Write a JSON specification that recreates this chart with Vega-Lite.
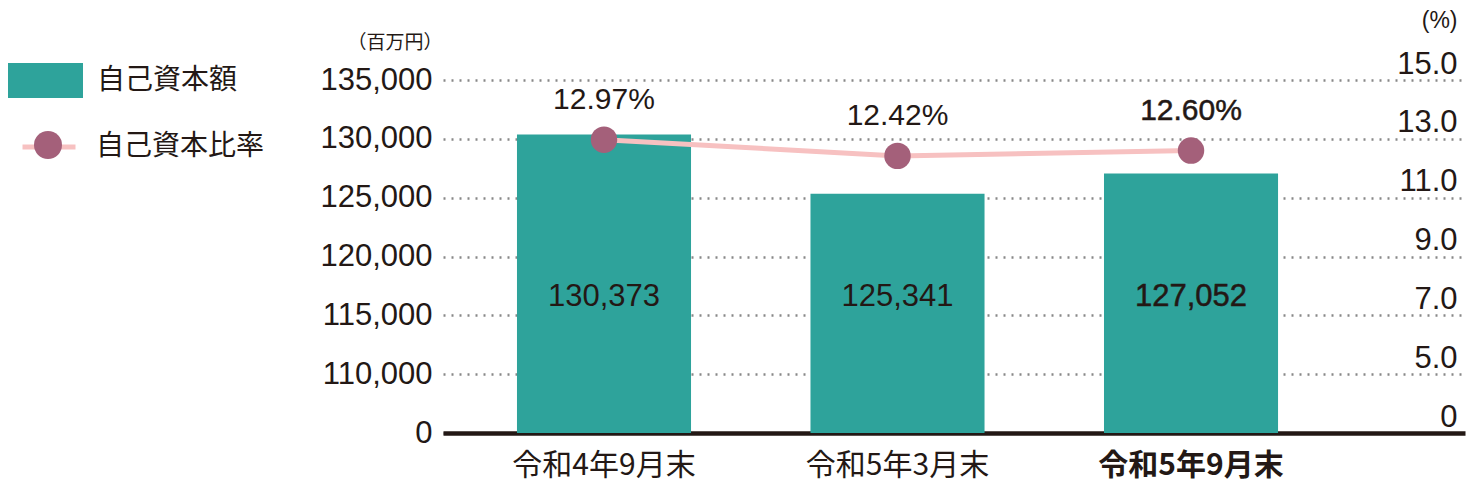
{
  "$schema": "https://vega.github.io/schema/vega-lite/v6.json",
  "width": 1022,
  "height": 353,
  "autosize": {"type": "none"},
  "padding": {"left": 443, "top": 80, "right": 4, "bottom": 64},
  "background": "white",
  "config": {"view": {"stroke": null}, "font": "Liberation Sans"},
  "data": {
    "values": [
      {"period": "令和4年9月末", "capital": 130373, "ratio": 0.1297},
      {"period": "令和5年3月末", "capital": 125341, "ratio": 0.1242},
      {"period": "令和5年9月末", "capital": 127052, "ratio": 0.1260}
    ]
  },
  "encoding": {
    "x": {
      "field": "period",
      "type": "nominal",
      "sort": null,
      "scale": {"paddingInner": 0.407, "paddingOuter": 0.4445, "align": 0.2835},
      "axis": {
        "title": null,
        "labelAngle": 0,
        "labelLimit": 0,
        "labelFont": "Noto Sans CJK JP",
        "labelFontSize": 30,
        "labelColor": "#231815",
        "labelPadding": 17,
        "labelFontWeight": {"condition": {"test": "datum.value === '令和5年9月末'", "value": "bold"}, "value": "normal"},
        "ticks": false,
        "domain": true,
        "domainColor": "#231815",
        "domainWidth": 4.5
      }
    }
  },
  "layer": [
    {
      "layer": [
        {
          "mark": {"type": "bar", "color": "#2EA39B"},
          "encoding": {
            "y": {
              "field": "capital",
              "type": "quantitative",
              "scale": {"domain": [105000, 135000], "zero": false, "nice": false},
              "axis": {
                "title": "（百万円）",
                "titleAngle": 0,
                "titleAlign": "right",
                "titleBaseline": "middle",
                "titleX": -1,
                "titleY": -38,
                "titleFont": "Noto Sans CJK JP",
                "titleFontSize": 19,
                "titleFontWeight": "normal",
                "titleColor": "#231815",
                "values": [105000, 110000, 115000, 120000, 125000, 130000, 135000],
                "labelExpr": "datum.value == 105000 ? '0' : format(datum.value, ',')",
                "labelFontSize": 31,
                "labelColor": "#231815",
                "labelPadding": 11,
                "ticks": false,
                "domain": false,
                "grid": true,
                "gridColor": "#888888",
                "gridDash": [2, 6],
                "gridWidth": 2.5
              }
            },
            "y2": {"datum": 105000},
            "fill": {
              "datum": "自己資本額",
              "scale": {"range": ["#2EA39B"]},
              "legend": {
                "orient": "none",
                "legendX": -435,
                "legendY": -37,
                "title": null,
                "padding": 0,
                "symbolType": "M-1,-0.467H1V0.467H-1Z",
                "symbolSize": 5625,
                "symbolStrokeWidth": 0,
                "labelFont": "Noto Sans CJK JP",
                "labelFontSize": 28,
                "labelColor": "#231815",
                "labelLimit": 0,
                "labelOffset": 14
              }
            }
          }
        },
        {
          "mark": {
            "type": "text",
            "fontSize": 31,
            "color": "#231815",
            "stroke": "#231815",
            "strokeWidth": {"expr": "datum.period === '令和5年9月末' ? 0.5 : 0"}
          },
          "encoding": {
            "y": {"datum": 116560, "type": "quantitative"},
            "text": {"field": "capital", "type": "quantitative", "format": ","}
          }
        }
      ]
    },
    {
      "layer": [
        {
          "mark": {"type": "line", "strokeWidth": 5},
          "encoding": {
            "y": {
              "field": "ratio",
              "type": "quantitative",
              "scale": {"domain": [0.03, 0.15], "zero": false, "nice": false},
              "axis": {
                "orient": "right",
                "title": "(%)",
                "titleAngle": 0,
                "titleAlign": "right",
                "titleBaseline": "middle",
                "titleX": -8,
                "titleY": -60,
                "titleFont": "Liberation Sans",
                "titleFontSize": 23,
                "titleFontWeight": "normal",
                "titleColor": "#231815",
                "values": [0.03, 0.05, 0.07, 0.09, 0.11, 0.13, 0.15],
                "labelExpr": "datum.value == 0.03 ? '0' : format(datum.value * 100, '.1f')",
                "labelFontSize": 31,
                "labelColor": "#231815",
                "labelAlign": "right",
                "labelBaseline": "alphabetic",
                "labelOffset": -7,
                "labelPadding": -8,
                "ticks": false,
                "domain": false,
                "grid": false
              }
            },
            "stroke": {
              "datum": "自己資本比率",
              "scale": {"range": ["#F7C1C1"]},
              "legend": {
                "orient": "none",
                "legendX": -423,
                "legendY": 38,
                "title": null,
                "padding": 0,
                "symbolType": "stroke",
                "symbolSize": 2809,
                "symbolStrokeWidth": 5,
                "labelFont": "Noto Sans CJK JP",
                "labelFontSize": 28,
                "labelColor": "#231815",
                "labelLimit": 0,
                "labelOffset": 18
              }
            }
          }
        },
        {
          "mark": {"type": "point", "filled": true, "size": 700, "color": "#A4607A", "opacity": 1},
          "encoding": {
            "y": {"field": "ratio", "type": "quantitative"},
            "shape": {
              "datum": " ",
              "scale": {"range": ["circle"]},
              "legend": {
                "orient": "none",
                "legendX": -409,
                "legendY": 51,
                "title": null,
                "padding": 0,
                "symbolSize": 784,
                "symbolFillColor": "#A4607A",
                "symbolStrokeWidth": 0,
                "labelFontSize": 1,
                "labelOpacity": 0
              }
            }
          }
        },
        {
          "mark": {
            "type": "text",
            "fontSize": 30,
            "dy": -40,
            "color": "#231815",
            "stroke": "#231815",
            "strokeWidth": {"expr": "datum.period === '令和5年9月末' ? 0.5 : 0"}
          },
          "encoding": {
            "y": {"field": "ratio", "type": "quantitative"},
            "text": {"field": "ratio", "type": "quantitative", "format": ".2%"}
          }
        }
      ]
    }
  ],
  "resolve": {"scale": {"y": "independent"}}
}
